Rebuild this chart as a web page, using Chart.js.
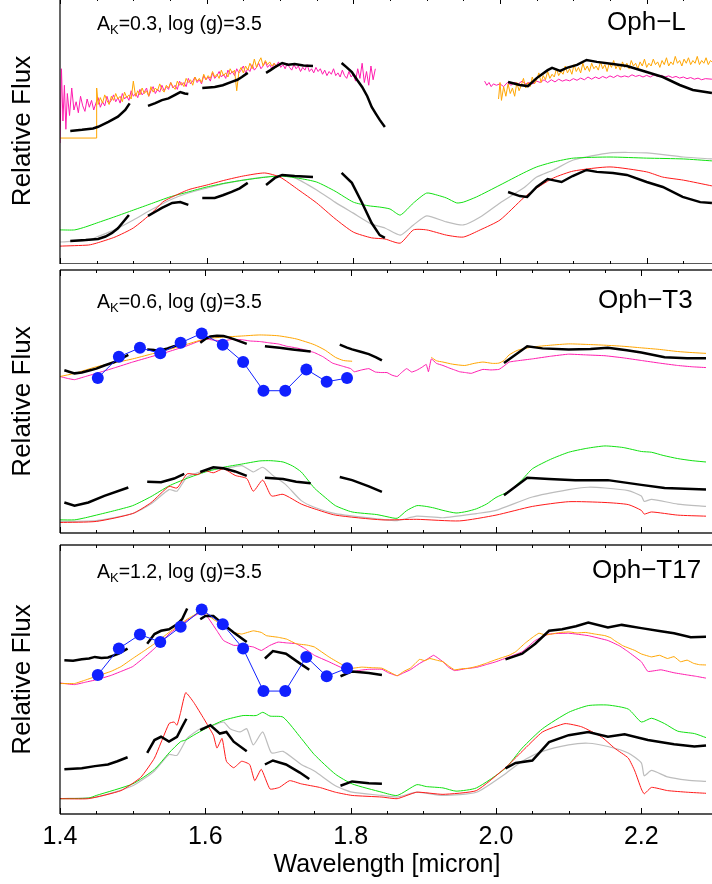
<!DOCTYPE html>
<html>
<head>
<meta charset="utf-8">
<script src="https://cdn.jsdelivr.net/npm/chart.js@4.4.1/dist/chart.umd.min.js"></script>
<style>
  html, body { margin: 0; padding: 0; background: #fff; overflow: hidden; }
  body { width: 712px; height: 884px; position: relative; }
  canvas { position: absolute; left: 0; }
  #c1 { top: -2px; }
  #c2 { top: 264px; }
  #c3 { top: 539px; }
</style>
</head>
<body>
<canvas id="c1" width="720" height="266"></canvas>
<canvas id="c2" width="720" height="275"></canvas>
<canvas id="c3" width="720" height="345"></canvas>
<script>
// wavelength axis (micron)
const majorTicks = [1.4, 1.6, 1.8, 2.0, 2.2];
const minorTicks = [1.45, 1.5, 1.55, 1.65, 1.7, 1.75, 1.85, 1.9, 1.95, 2.05, 2.1, 2.15, 2.25];

// narrow-band filter centres (blue points)
const nbWave = [1.452, 1.481, 1.510, 1.538, 1.566, 1.595, 1.624, 1.652, 1.680, 1.710, 1.739, 1.767, 1.795];
const ophT3_nb = [5.89, 6.70, 7.04, 6.83, 7.23, 7.59, 7.16, 6.50, 5.41, 5.41, 6.22, 5.75, 5.89];
const ophT17_nb = [5.17, 6.15, 6.67, 6.39, 6.96, 7.60, 7.05, 6.15, 4.57, 4.57, 5.84, 5.12, 5.42];

// ---------- Oph-L ----------
const ophL_magentaH = [[1.400,4.4],[1.402,7.1],[1.404,5.2],[1.406,6.5],[1.408,4.9],[1.410,6.2],[1.413,5.4],[1.416,6.4],[1.419,5.6],[1.422,5.9],[1.425,5.5],[1.428,6.1],[1.431,5.75],[1.434,5.55],[1.437,6.0],[1.440,5.7],[1.443,5.95],[1.446,5.6],[1.449,5.85],[1.452,6.05],[1.455,5.7],[1.458,5.9],[1.461,5.75],[1.464,6.1],[1.467,5.85],[1.470,5.95],[1.473,6.15],[1.476,5.9],[1.479,6.05],[1.482,5.85],[1.485,6.2],[1.488,6.0],[1.491,6.1],[1.494,5.95],[1.497,6.3],[1.500,6.1],[1.503,6.2],[1.506,6.05],[1.509,6.35],[1.512,6.15],[1.515,6.25],[1.518,6.4],[1.521,6.1],[1.524,6.3],[1.527,6.45],[1.530,6.2],[1.533,6.35],[1.536,6.25],[1.539,6.5],[1.542,6.3],[1.545,6.45],[1.548,6.35],[1.551,6.6],[1.554,6.4],[1.557,6.5],[1.560,6.35],[1.563,6.65],[1.566,6.5],[1.569,6.6],[1.572,6.45],[1.575,6.75],[1.578,6.55],[1.581,6.65],[1.584,6.8],[1.587,6.6],[1.590,6.7],[1.593,6.55],[1.596,6.85],[1.599,6.7],[1.602,6.8],[1.605,6.65],[1.608,6.95],[1.611,6.75],[1.614,6.85],[1.617,7.0],[1.620,6.8],[1.623,6.9],[1.626,6.75],[1.629,7.05],[1.632,6.9],[1.635,7.0],[1.638,6.85],[1.641,7.1],[1.644,6.95],[1.647,7.05],[1.650,7.2],[1.653,6.95],[1.656,7.1],[1.659,7.0],[1.662,7.25],[1.665,7.05],[1.668,7.15],[1.671,7.3],[1.674,7.1],[1.677,7.2],[1.680,7.35],[1.683,7.15],[1.686,7.25],[1.689,7.1],[1.692,7.3],[1.695,7.2],[1.698,7.35],[1.701,7.15],[1.704,7.25],[1.707,7.1],[1.710,7.3],[1.713,7.15],[1.716,7.05],[1.719,7.25],[1.722,7.1],[1.725,7.2],[1.728,7.0],[1.731,7.15],[1.734,7.05],[1.737,7.25],[1.740,7.0],[1.743,7.1],[1.746,6.95],[1.749,7.15],[1.752,7.0],[1.755,7.1],[1.758,6.9],[1.761,7.05],[1.764,6.85],[1.767,7.0],[1.770,6.9],[1.773,7.1],[1.776,6.85],[1.779,6.95],[1.782,6.8],[1.785,7.05],[1.788,6.85],[1.791,6.75],[1.794,7.0],[1.797,6.8],[1.800,6.9],[1.803,6.65],[1.806,7.1],[1.809,6.75],[1.812,7.3],[1.815,6.6],[1.818,7.0],[1.821,6.5],[1.824,7.2],[1.827,6.7],[1.830,7.1]];
const ophL_magentaK = [[1.979,6.65],[1.982,6.5],[1.985,6.6],[1.988,6.45],[1.991,6.55],[1.995,6.5],[2.000,6.55],[2.005,6.45],[2.010,6.6],[2.015,6.5],[2.020,6.6],[2.025,6.55],[2.030,6.65],[2.035,6.55],[2.040,6.6],[2.045,6.55],[2.050,6.65],[2.055,6.6],[2.060,6.7],[2.065,6.6],[2.070,6.7],[2.075,6.62],[2.080,6.72],[2.085,6.65],[2.090,6.7],[2.095,6.66],[2.100,6.74],[2.105,6.68],[2.110,6.76],[2.115,6.7],[2.120,6.8],[2.125,6.72],[2.130,6.8],[2.135,6.74],[2.140,6.82],[2.145,6.76],[2.150,6.84],[2.155,6.78],[2.160,6.86],[2.165,6.8],[2.170,6.84],[2.175,6.8],[2.180,6.88],[2.185,6.82],[2.190,6.86],[2.195,6.8],[2.200,6.86],[2.205,6.8],[2.210,6.88],[2.215,6.82],[2.220,6.86],[2.225,6.8],[2.230,6.84],[2.235,6.78],[2.240,6.82],[2.245,6.76],[2.250,6.8],[2.255,6.74],[2.260,6.78],[2.265,6.72],[2.270,6.76],[2.275,6.7],[2.280,6.74],[2.289,6.72]];
const ophL_orangeH = [[1.400,4.58],[1.450,4.58],[1.450,6.4],[1.452,5.8],[1.455,6.05],[1.458,5.85],[1.461,6.15],[1.464,5.95],[1.467,5.8],[1.470,6.1],[1.473,5.95],[1.476,6.2],[1.479,6.0],[1.482,6.1],[1.485,5.9],[1.488,6.25],[1.491,6.05],[1.494,6.15],[1.497,6.0],[1.500,6.65],[1.503,6.1],[1.506,6.3],[1.509,6.15],[1.512,6.4],[1.515,6.2],[1.518,6.3],[1.521,6.1],[1.524,6.45],[1.527,6.25],[1.530,6.4],[1.533,6.3],[1.536,6.55],[1.539,6.35],[1.542,6.25],[1.545,6.5],[1.548,6.4],[1.551,6.6],[1.554,6.45],[1.557,6.35],[1.560,6.65],[1.563,6.5],[1.566,6.6],[1.569,6.45],[1.572,6.75],[1.575,6.6],[1.578,6.7],[1.581,6.5],[1.584,6.8],[1.587,6.65],[1.590,6.75],[1.593,6.6],[1.596,6.9],[1.599,6.7],[1.602,6.85],[1.605,6.75],[1.608,7.0],[1.611,6.8],[1.614,6.9],[1.617,6.75],[1.620,7.05],[1.623,6.85],[1.626,6.95],[1.629,6.8],[1.632,7.1],[1.635,6.95],[1.638,7.05],[1.641,6.3],[1.644,7.0],[1.647,7.15],[1.650,6.95],[1.653,7.2],[1.656,7.05],[1.659,7.3],[1.662,7.1],[1.665,7.45],[1.668,7.15],[1.671,7.35],[1.674,7.5],[1.677,7.2],[1.680,7.4],[1.683,7.25],[1.686,7.35],[1.689,7.2],[1.692,7.3],[1.695,7.15],[1.698,7.25]];
const ophL_orangeK = [[1.998,6.0],[2.000,6.6],[2.002,5.95],[2.005,6.45],[2.008,6.1],[2.011,6.55],[2.014,6.2],[2.017,6.4],[2.020,6.1],[2.023,6.6],[2.026,6.3],[2.029,6.5],[2.032,6.75],[2.035,6.4],[2.038,6.6],[2.041,6.45],[2.044,6.8],[2.047,6.55],[2.050,6.7],[2.053,6.95],[2.056,6.6],[2.059,6.85],[2.062,6.7],[2.065,7.0],[2.068,6.75],[2.071,6.9],[2.074,6.8],[2.077,7.1],[2.080,6.85],[2.083,7.0],[2.086,6.9],[2.089,7.2],[2.092,6.95],[2.095,7.1],[2.098,6.9],[2.101,7.25],[2.104,7.0],[2.107,7.15],[2.110,6.95],[2.113,7.3],[2.116,7.05],[2.119,7.2],[2.122,7.0],[2.125,7.3],[2.128,7.1],[2.131,7.2],[2.134,7.05],[2.137,7.35],[2.140,7.1],[2.143,7.25],[2.146,7.0],[2.149,7.3],[2.152,7.15],[2.155,7.4],[2.158,7.1],[2.161,7.25],[2.164,7.05],[2.167,7.35],[2.170,7.15],[2.173,7.3],[2.176,7.1],[2.179,7.4],[2.182,7.2],[2.185,7.3],[2.188,7.1],[2.191,7.35],[2.194,7.2],[2.197,7.45],[2.200,7.15],[2.203,7.3],[2.206,7.2],[2.209,7.45],[2.212,7.25],[2.215,7.35],[2.218,7.15],[2.221,7.4],[2.224,7.25],[2.227,7.5],[2.230,7.2],[2.233,7.35],[2.236,7.25],[2.239,7.55],[2.242,7.3],[2.245,7.4],[2.248,7.2],[2.251,7.45],[2.254,7.3],[2.257,7.5],[2.260,7.25],[2.263,7.4],[2.266,7.3],[2.269,7.55],[2.272,7.25],[2.275,7.4],[2.278,7.3],[2.281,7.5],[2.284,7.25],[2.287,7.4],[2.289,7.35]];
const ophL_obs = [
  [[1.414,4.84],[1.430,4.88],[1.445,4.93],[1.452,4.99],[1.466,5.17],[1.479,5.36],[1.489,5.6],[1.495,5.84]],
  [[1.520,5.75],[1.530,5.85],[1.539,5.96],[1.548,6.02],[1.557,6.15],[1.564,6.25],[1.570,6.2],[1.575,6.18]],
  [[1.594,6.4],[1.603,6.42],[1.611,6.44],[1.622,6.5],[1.634,6.62],[1.642,6.7],[1.648,6.8],[1.656,6.95]],
  [[1.681,6.95],[1.687,7.05],[1.693,7.16],[1.703,7.31],[1.711,7.25],[1.720,7.27],[1.732,7.22],[1.745,7.2]],
  [[1.784,7.31],[1.791,7.15],[1.798,6.98],[1.805,6.7],[1.812,6.44],[1.819,6.1],[1.825,5.71],[1.831,5.45],[1.836,5.24],[1.843,4.98]],
  [[2.011,6.62],[2.027,6.51],[2.038,6.47],[2.050,6.76],[2.065,7.05],[2.071,7.13],[2.082,7.02],[2.091,7.13],[2.105,7.24],[2.118,7.42],[2.132,7.35],[2.154,7.27],[2.173,7.2],[2.200,6.98],[2.222,6.8],[2.245,6.51],[2.263,6.33],[2.289,6.22]],
  [[1.414,0.84],[1.435,0.87],[1.452,0.91],[1.462,1.0],[1.471,1.13],[1.479,1.3],[1.485,1.49],[1.494,1.78]],
  [[1.520,1.75],[1.530,1.9],[1.539,2.04],[1.553,2.22],[1.564,2.25],[1.575,2.15]],
  [[1.594,2.4],[1.611,2.4],[1.622,2.5],[1.634,2.62],[1.645,2.75],[1.656,2.95]],
  [[1.681,2.87],[1.693,3.13],[1.703,3.24],[1.720,3.2],[1.745,3.16]],
  [[1.784,3.31],[1.798,2.95],[1.812,2.22],[1.825,1.49],[1.836,1.05],[1.843,0.95]],
  [[2.011,2.62],[2.027,2.47],[2.037,2.44],[2.050,2.8],[2.065,3.09],[2.072,3.05],[2.084,2.98],[2.099,3.2],[2.118,3.42],[2.132,3.35],[2.154,3.31],[2.173,3.24],[2.200,2.98],[2.222,2.8],[2.249,2.44],[2.273,2.25],[2.289,2.22]]
];
const ophL_green = [[1.400,1.24],[1.420,1.24],[1.435,1.35],[1.450,1.49],[1.475,1.72],[1.500,1.96],[1.525,2.2],[1.550,2.44],[1.575,2.62],[1.600,2.8],[1.625,2.94],[1.650,3.05],[1.675,3.14],[1.700,3.2],[1.725,3.12],[1.750,2.98],[1.775,2.65],[1.800,2.25],[1.820,2.12],[1.836,2.07],[1.850,2.0],[1.864,1.78],[1.882,2.22],[1.900,2.58],[1.915,2.5],[1.927,2.4],[1.941,2.22],[1.950,2.25],[1.968,2.44],[2.000,2.87],[2.032,3.31],[2.050,3.53],[2.073,3.71],[2.100,3.85],[2.150,3.89],[2.200,3.85],[2.250,3.82],[2.289,3.75]];
const ophL_gray = [[1.400,0.8],[1.439,0.87],[1.450,0.98],[1.475,1.25],[1.500,1.6],[1.525,1.98],[1.550,2.33],[1.575,2.58],[1.600,2.76],[1.625,2.93],[1.650,3.05],[1.675,3.15],[1.700,3.2],[1.720,3.13],[1.750,2.69],[1.775,2.25],[1.800,1.85],[1.825,1.45],[1.843,1.31],[1.864,1.05],[1.882,1.42],[1.900,1.75],[1.927,1.53],[1.950,1.42],[1.973,1.71],[2.000,2.22],[2.032,2.76],[2.050,3.16],[2.073,3.42],[2.100,3.78],[2.150,4.04],[2.200,4.04],[2.250,3.89],[2.289,3.82]];
const ophL_red = [[1.400,0.65],[1.439,0.69],[1.450,0.76],[1.475,0.98],[1.500,1.31],[1.525,1.85],[1.540,2.25],[1.550,2.4],[1.575,2.7],[1.600,2.87],[1.625,3.05],[1.650,3.2],[1.679,3.31],[1.700,3.16],[1.725,2.7],[1.750,2.22],[1.775,1.65],[1.800,1.16],[1.825,0.95],[1.843,0.91],[1.864,0.76],[1.882,1.24],[1.900,1.24],[1.927,1.05],[1.950,0.98],[1.973,1.24],[2.000,1.6],[2.032,2.4],[2.050,2.76],[2.073,3.13],[2.100,3.38],[2.150,3.53],[2.200,3.35],[2.222,3.16],[2.250,3.05],[2.289,2.84]];

// ---------- Oph-T3 ----------
const ophT3_orange = [
  [[1.400,5.95],[1.420,6.07],[1.450,6.32],[1.475,6.47],[1.500,6.62],[1.525,6.8],[1.550,6.98],[1.575,7.18],[1.600,7.38],[1.625,7.45],[1.650,7.49],[1.675,7.53],[1.700,7.5],[1.725,7.38],[1.750,7.16],[1.765,6.95],[1.779,6.68],[1.790,6.56],[1.802,6.53]],
  [[1.911,6.68],[1.918,6.55],[1.927,6.5],[1.940,6.42],[1.957,6.37],[1.970,6.45],[1.982,6.5],[1.995,6.45],[2.004,6.46],[2.011,6.56],[2.018,6.77],[2.030,6.95],[2.050,7.07],[2.075,7.14],[2.100,7.19],[2.125,7.17],[2.150,7.14],[2.175,7.1],[2.200,7.04],[2.225,6.98],[2.250,6.9],[2.270,6.86],[2.289,6.83]]
];
const ophT3_magenta = [[1.400,5.95],[1.410,5.88],[1.420,5.83],[1.435,5.95],[1.450,6.07],[1.475,6.28],[1.500,6.5],[1.525,6.7],[1.550,6.9],[1.575,7.12],[1.600,7.38],[1.612,7.33],[1.625,7.31],[1.637,7.36],[1.650,7.35],[1.662,7.3],[1.675,7.28],[1.688,7.23],[1.700,7.19],[1.712,7.1],[1.725,7.04],[1.737,6.96],[1.750,6.86],[1.762,6.7],[1.775,6.46],[1.788,6.35],[1.800,6.25],[1.805,6.13],[1.815,6.2],[1.825,6.25],[1.834,6.12],[1.843,6.1],[1.850,6.1],[1.857,6.0],[1.864,5.95],[1.870,6.1],[1.877,6.25],[1.884,6.12],[1.891,6.19],[1.898,6.3],[1.904,6.41],[1.907,6.13],[1.911,6.62],[1.918,6.45],[1.927,6.37],[1.935,6.28],[1.943,6.2],[1.950,6.13],[1.958,6.1],[1.966,6.07],[1.974,6.15],[1.982,6.22],[1.993,6.2],[2.004,6.22],[2.011,6.35],[2.018,6.5],[2.030,6.55],[2.050,6.62],[2.075,6.72],[2.100,6.8],[2.125,6.77],[2.150,6.74],[2.175,6.66],[2.200,6.56],[2.225,6.46],[2.250,6.37],[2.270,6.32],[2.289,6.29]];
const ophT3_obs = [
  [[1.406,6.19],[1.420,6.07],[1.430,6.1],[1.439,6.17],[1.450,6.25],[1.461,6.37],[1.475,6.5],[1.494,6.77]],
  [[1.520,6.98],[1.530,6.96],[1.539,6.95],[1.548,7.02],[1.557,7.1],[1.570,7.26]],
  [[1.593,7.23],[1.600,7.38],[1.607,7.47],[1.616,7.5],[1.625,7.49],[1.633,7.43],[1.641,7.35],[1.657,7.19]],
  [[1.682,7.1],[1.702,7.04],[1.720,6.98],[1.745,6.9]],
  [[1.785,7.16],[1.795,7.05],[1.802,6.98],[1.815,6.88],[1.825,6.8],[1.835,6.68],[1.843,6.56]],
  [[2.011,6.46],[2.043,7.1],[2.064,7.02],[2.100,6.98],[2.130,7.0],[2.154,7.04],[2.180,6.95],[2.200,6.86],[2.232,6.68],[2.263,6.64],[2.289,6.64]],
  [[1.406,1.16],[1.420,1.04],[1.439,1.16],[1.461,1.41],[1.494,1.73]],
  [[1.520,1.95],[1.539,1.93],[1.557,2.07],[1.571,2.25]],
  [[1.593,2.32],[1.611,2.5],[1.625,2.46],[1.641,2.34],[1.657,2.17]],
  [[1.682,2.1],[1.707,2.05],[1.725,1.95],[1.745,1.89]],
  [[1.785,2.13],[1.802,2.01],[1.825,1.77],[1.843,1.56]],
  [[2.011,1.44],[2.043,2.1],[2.073,2.05],[2.109,2.01],[2.154,2.01],[2.200,1.83],[2.232,1.71],[2.289,1.65]]
];
const ophT3_green = [[1.400,0.5],[1.420,0.5],[1.435,0.58],[1.450,0.68],[1.475,0.85],[1.500,1.04],[1.525,1.38],[1.550,1.79],[1.575,2.08],[1.600,2.32],[1.625,2.5],[1.650,2.62],[1.675,2.74],[1.690,2.75],[1.707,2.7],[1.720,2.55],[1.732,2.32],[1.750,1.71],[1.765,1.35],[1.779,1.04],[1.802,0.8],[1.836,0.7],[1.850,0.62],[1.864,0.56],[1.877,0.85],[1.891,1.04],[1.904,1.01],[1.915,0.95],[1.927,0.86],[1.945,0.76],[1.960,0.82],[1.973,0.92],[1.987,1.1],[2.000,1.35],[2.018,1.59],[2.035,2.0],[2.050,2.44],[2.075,2.8],[2.100,3.07],[2.125,3.22],[2.150,3.31],[2.175,3.25],[2.200,3.1],[2.214,3.07],[2.230,2.95],[2.250,2.83],[2.270,2.75],[2.289,2.7]];
const ophT3_gray = [[1.400,0.44],[1.450,0.47],[1.500,0.74],[1.525,1.1],[1.550,1.65],[1.561,1.59],[1.575,2.13],[1.600,2.37],[1.625,2.44],[1.650,2.56],[1.666,2.32],[1.679,2.5],[1.693,2.19],[1.711,1.83],[1.732,1.23],[1.750,0.98],[1.779,0.74],[1.843,0.52],[1.864,0.47],[1.891,0.64],[1.927,0.58],[1.973,0.74],[2.000,0.86],[2.050,1.37],[2.100,1.65],[2.127,1.74],[2.150,1.71],[2.182,1.61],[2.200,1.41],[2.204,1.2],[2.214,1.28],[2.250,1.1],[2.289,1.01]];
const ophT3_red = [[1.400,0.4],[1.450,0.44],[1.500,0.74],[1.525,1.15],[1.550,1.77],[1.561,1.71],[1.575,2.25],[1.589,2.22],[1.600,2.37],[1.611,2.29],[1.625,2.44],[1.641,2.19],[1.657,2.07],[1.666,1.59],[1.679,2.01],[1.691,1.41],[1.707,1.47],[1.732,1.1],[1.750,0.92],[1.779,0.68],[1.843,0.5],[1.891,0.52],[1.950,0.46],[2.000,0.68],[2.050,1.01],[2.100,1.19],[2.150,1.16],[2.182,1.08],[2.200,0.86],[2.204,0.72],[2.214,0.8],[2.250,0.68],[2.289,0.64]];

// ---------- Oph-T17 ----------
const ophT17_orange = [[1.400,4.85],[1.420,4.85],[1.435,4.98],[1.450,5.12],[1.470,5.3],[1.484,5.48],[1.500,5.78],[1.515,6.05],[1.530,6.33],[1.550,6.75],[1.575,7.24],[1.593,7.52],[1.600,7.48],[1.611,7.24],[1.625,6.99],[1.639,6.75],[1.650,6.69],[1.666,6.81],[1.677,6.75],[1.684,6.63],[1.700,6.57],[1.712,6.5],[1.725,6.33],[1.740,6.28],[1.750,6.21],[1.770,5.84],[1.789,5.54],[1.802,5.42],[1.815,5.46],[1.829,5.44],[1.843,5.42],[1.852,5.3],[1.864,5.14],[1.873,5.3],[1.882,5.42],[1.889,5.6],[1.895,5.75],[1.902,5.7],[1.909,5.78],[1.918,5.72],[1.927,5.66],[1.935,5.5],[1.943,5.36],[1.953,5.4],[1.963,5.42],[1.975,5.5],[1.986,5.6],[1.998,5.72],[2.009,5.82],[2.018,5.9],[2.027,6.03],[2.040,6.35],[2.052,6.6],[2.059,6.72],[2.066,6.67],[2.073,6.67],[2.086,6.74],[2.100,6.77],[2.112,6.73],[2.123,6.75],[2.136,6.69],[2.150,6.63],[2.158,6.55],[2.163,6.45],[2.175,6.25],[2.191,6.08],[2.200,5.95],[2.214,5.84],[2.225,5.9],[2.236,5.78],[2.245,5.85],[2.254,5.66],[2.263,5.72],[2.272,5.6],[2.280,5.55],[2.289,5.54]];
const ophT17_magenta = [[1.400,4.87],[1.420,4.81],[1.435,4.9],[1.450,4.99],[1.470,5.15],[1.484,5.3],[1.500,5.48],[1.515,5.8],[1.530,6.15],[1.550,6.69],[1.575,7.2],[1.593,7.48],[1.602,7.36],[1.616,6.81],[1.625,6.45],[1.639,6.27],[1.650,6.27],[1.666,6.21],[1.677,6.08],[1.689,6.27],[1.700,6.39],[1.712,6.36],[1.725,6.33],[1.737,6.15],[1.750,5.9],[1.770,5.66],[1.789,5.42],[1.802,5.3],[1.815,5.35],[1.825,5.38],[1.843,5.38],[1.852,5.25],[1.864,5.14],[1.873,5.25],[1.882,5.36],[1.895,5.6],[1.905,5.75],[1.914,5.9],[1.920,5.8],[1.927,5.66],[1.935,5.45],[1.943,5.33],[1.958,5.4],[1.973,5.45],[1.986,5.55],[2.000,5.66],[2.018,5.84],[2.036,6.03],[2.054,6.45],[2.073,6.69],[2.100,6.72],[2.127,6.63],[2.154,6.45],[2.170,6.25],[2.182,6.03],[2.200,5.66],[2.209,5.3],[2.227,5.36],[2.245,5.25],[2.263,5.17],[2.275,5.12],[2.289,5.05]];
const ophT17_obs = [
  [[1.406,5.72],[1.418,5.7],[1.430,5.75],[1.440,5.78],[1.448,5.84],[1.457,5.8],[1.466,5.82],[1.480,5.95],[1.493,6.15]],
  [[1.520,6.33],[1.530,6.69],[1.539,6.81],[1.550,6.87],[1.561,7.05],[1.568,7.24],[1.575,7.64]],
  [[1.593,7.24],[1.600,7.36],[1.611,7.36],[1.625,7.05],[1.639,6.75],[1.657,6.39]],
  [[1.682,5.78],[1.693,6.06],[1.711,5.96],[1.730,5.6],[1.743,5.36]],
  [[1.786,5.12],[1.802,5.3],[1.825,5.24],[1.843,5.17]],
  [[2.013,5.75],[2.036,5.96],[2.054,6.33],[2.073,6.81],[2.091,6.87],[2.110,6.98],[2.127,7.12],[2.154,6.93],[2.173,7.03],[2.200,6.91],[2.227,6.79],[2.245,6.72],[2.268,6.57],[2.289,6.59]],
  [[1.406,1.66],[1.430,1.7],[1.448,1.78],[1.466,1.84],[1.479,1.96],[1.493,2.11]],
  [[1.520,2.27],[1.530,2.75],[1.539,2.87],[1.550,2.69],[1.561,2.87],[1.568,3.24],[1.574,3.54]],
  [[1.593,3.12],[1.607,3.3],[1.620,2.99],[1.629,3.05],[1.639,2.69],[1.657,2.33]],
  [[1.682,1.84],[1.693,1.99],[1.711,1.84],[1.730,1.54],[1.743,1.3]],
  [[1.786,1.05],[1.802,1.21],[1.825,1.14],[1.843,1.12]],
  [[2.013,1.7],[2.027,1.9],[2.050,1.99],[2.073,2.67],[2.100,2.93],[2.127,3.05],[2.154,2.87],[2.177,2.96],[2.209,2.75],[2.245,2.59],[2.273,2.51],[2.289,2.55]]
];
const ophT17_green = [[1.400,0.57],[1.439,0.59],[1.450,0.69],[1.500,1.12],[1.530,1.66],[1.550,2.27],[1.566,2.69],[1.573,2.75],[1.584,2.93],[1.600,3.17],[1.625,3.48],[1.652,3.66],[1.670,3.66],[1.679,3.78],[1.689,3.64],[1.707,3.6],[1.732,2.81],[1.750,2.21],[1.779,1.48],[1.802,1.12],[1.843,0.81],[1.864,0.69],[1.891,1.09],[1.904,1.02],[1.927,0.97],[1.945,0.85],[1.973,0.97],[2.013,1.7],[2.036,2.45],[2.064,3.17],[2.100,3.78],[2.127,4.03],[2.154,4.05],[2.182,3.9],[2.200,3.42],[2.214,3.56],[2.232,3.36],[2.250,3.08],[2.273,2.99],[2.289,2.84]];
const ophT17_gray = [[1.400,0.57],[1.450,0.63],[1.500,1.05],[1.530,1.6],[1.550,2.21],[1.561,2.18],[1.575,2.81],[1.593,3.17],[1.611,3.3],[1.625,3.42],[1.634,3.17],[1.648,3.05],[1.657,3.17],[1.666,2.57],[1.679,3.05],[1.691,2.27],[1.707,2.33],[1.732,1.84],[1.750,1.6],[1.779,1.05],[1.802,0.81],[1.843,0.69],[1.864,0.63],[1.891,0.81],[1.927,0.69],[1.973,0.81],[2.013,1.5],[2.036,1.96],[2.064,2.33],[2.100,2.57],[2.127,2.63],[2.154,2.51],[2.182,2.27],[2.200,1.9],[2.204,1.42],[2.214,1.62],[2.236,1.38],[2.263,1.26],[2.289,1.21]];
const ophT17_red = [[1.400,0.57],[1.439,0.57],[1.484,0.87],[1.511,1.36],[1.530,2.08],[1.550,3.36],[1.557,3.42],[1.561,3.3],[1.566,3.78],[1.573,4.51],[1.584,4.15],[1.598,3.54],[1.611,2.93],[1.616,2.45],[1.623,2.81],[1.629,1.96],[1.639,1.72],[1.650,1.96],[1.661,1.84],[1.668,1.24],[1.677,1.66],[1.689,0.93],[1.702,0.99],[1.716,1.24],[1.732,1.12],[1.757,0.99],[1.779,0.81],[1.802,0.69],[1.843,0.63],[1.864,0.57],[1.891,0.81],[1.927,0.73],[1.973,0.87],[2.013,1.72],[2.036,2.33],[2.064,3.05],[2.095,3.36],[2.118,3.24],[2.145,2.87],[2.163,2.45],[2.182,2.08],[2.191,1.6],[2.200,0.93],[2.204,0.75],[2.214,0.99],[2.236,0.87],[2.263,0.81],[2.289,0.77]];

// ---------- drawing ----------
const BLACK = '#000000', ORANGE = '#ffa500', MAGENTA = '#ff1cae', GREEN = '#11e011',
      GRAY = '#bdbdbd', RED = '#ff1a1a', BLUE = '#1020ff';
const FONT = '"Liberation Sans", Arial, Helvetica, sans-serif';
Chart.defaults.font.family = FONT;
Chart.defaults.color = '#000';

function segs(parts) {
  const out = [];
  parts.forEach((seg, i) => {
    if (i > 0) out.push({ x: seg[0][0], y: null });
    seg.forEach(p => out.push({ x: p[0], y: p[1] }));
  });
  return out;
}

function line(parts, color, width, order, tension) {
  return {
    data: segs(parts),
    borderColor: color,
    borderWidth: width,
    pointRadius: 0,
    tension: tension || 0,
    spanGaps: false,
    fill: false,
    order: order,
  };
}

function bluePoints(values) {
  return {
    data: nbWave.map((w, i) => ({ x: w, y: values[i] })),
    borderColor: BLUE,
    backgroundColor: BLUE,
    borderWidth: 1,
    pointRadius: 6,
    pointBorderWidth: 0,
    pointBackgroundColor: BLUE,
    order: 0,
  };
}

const frame = {
  id: 'frame',
  afterDatasetsDraw(chart) {
    const { ctx, chartArea: a, scales: { x } } = chart;
    ctx.save();
    ctx.strokeStyle = '#222';
    ctx.lineWidth = 1.6;
    ctx.beginPath();
    ctx.moveTo(a.left, a.top); ctx.lineTo(a.right, a.top);
    ctx.moveTo(a.left, a.bottom); ctx.lineTo(a.right, a.bottom);
    ctx.stroke();
    ctx.strokeStyle = '#000';
    ctx.lineWidth = 1.2;
    ctx.beginPath();
    ctx.moveTo(a.left, a.top); ctx.lineTo(a.left, a.bottom);
    ctx.stroke();
    ctx.lineWidth = 1;
    ctx.beginPath();
    majorTicks.concat(minorTicks).forEach(v => {
      const px = Math.round(x.getPixelForValue(v)) + 0.5;
      const len = majorTicks.includes(v) ? 6 : 3;
      ctx.moveTo(px, a.top); ctx.lineTo(px, a.top + len);
      ctx.moveTo(px, a.bottom); ctx.lineTo(px, a.bottom - len);
    });
    ctx.stroke();
    ctx.restore();
  }
};

const annot = {
  id: 'annot',
  afterDraw(chart, args, o) {
    const ctx = chart.ctx;
    ctx.save();
    ctx.fillStyle = '#000';
    ctx.textAlign = 'left';
    ctx.textBaseline = 'alphabetic';
    let x = o.akX;
    ctx.font = '19.5px ' + FONT;
    ctx.fillText('A', x, o.baseY);
    x += ctx.measureText('A').width;
    ctx.font = '13px ' + FONT;
    ctx.fillText('K', x, o.baseY + 4);
    x += ctx.measureText('K').width;
    ctx.font = '19.5px ' + FONT;
    ctx.fillText('=' + o.ak + ', log (g)=3.5', x, o.baseY);
    ctx.font = '26px ' + FONT;
    ctx.fillText(o.name, o.nameX, o.baseY);
    ctx.restore();
  }
};

function makePanel(id, datasets, yMax, label, showX) {
  return new Chart(document.getElementById(id), {
    type: 'line',
    data: { datasets: datasets },
    plugins: [frame, annot],
    options: {
      responsive: false,
      animation: false,
      layout: { padding: 0 },
      plugins: {
        legend: { display: false },
        tooltip: { enabled: false },
        annot: label,
      },
      scales: {
        x: {
          type: 'linear',
          min: 1.4,
          max: 2.3,
          display: showX,
          grid: { display: false, drawTicks: false },
          border: { display: false },
          afterBuildTicks: s => { s.ticks = majorTicks.map(v => ({ value: v })); },
          afterFit: s => { if (showX) s.height = 70; },
          ticks: {
            color: '#000',
            font: { size: 25 },
            padding: 8,
            maxRotation: 0,
            autoSkip: false,
            callback: v => Number(v).toFixed(1),
          },
          title: {
            display: showX,
            text: 'Wavelength [micron]',
            color: '#000',
            font: { size: 25 },
            padding: { top: 0, bottom: 4 },
          },
        },
        y: {
          type: 'linear',
          min: 0,
          max: yMax,
          grid: { display: false },
          border: { display: false },
          ticks: { display: false },
          afterFit: s => { s.width = 60; },
          title: {
            display: true,
            text: 'Relative Flux',
            color: '#000',
            font: { size: 26 },
            padding: { top: 7, bottom: 0 },
          },
        },
      },
    },
  });
}

makePanel('c1', [
  line(ophL_obs, BLACK, 2.5, 1),
  line([ophL_orangeH, ophL_orangeK], ORANGE, 1, 2),
  line([ophL_magentaH, ophL_magentaK], MAGENTA, 1, 3),
  line([ophL_red], RED, 1, 4, 0.2),
  line([ophL_green], GREEN, 1, 5, 0.2),
  line([ophL_gray], GRAY, 1.2, 6, 0.2),
], 266 / 27.5, { ak: '0.3', name: 'Oph\u2212L', akX: 97, nameX: 607, baseY: 32 }, false);

makePanel('c2', [
  bluePoints(ophT3_nb),
  line(ophT3_obs, BLACK, 2.5, 1),
  line(ophT3_orange, ORANGE, 1, 2, 0.2),
  line([ophT3_magenta], MAGENTA, 1, 3, 0.1),
  line([ophT3_red], RED, 1, 4, 0.2),
  line([ophT3_green], GREEN, 1, 5, 0.2),
  line([ophT3_gray], GRAY, 1.2, 6, 0.2),
], 10, { ak: '0.6', name: 'Oph\u2212T3', akX: 97, nameX: 598, baseY: 44 }, false);

makePanel('c3', [
  bluePoints(ophT17_nb),
  line(ophT17_obs, BLACK, 2.5, 1),
  line([ophT17_orange], ORANGE, 1, 2, 0.1),
  line([ophT17_magenta], MAGENTA, 1, 3, 0.1),
  line([ophT17_red], RED, 1, 4, 0.15),
  line([ophT17_green], GREEN, 1, 5, 0.2),
  line([ophT17_gray], GRAY, 1.2, 6, 0.2),
], 10, { ak: '1.2', name: 'Oph\u2212T17', akX: 97, nameX: 592, baseY: 39 }, true);
</script>
</body>
</html>
